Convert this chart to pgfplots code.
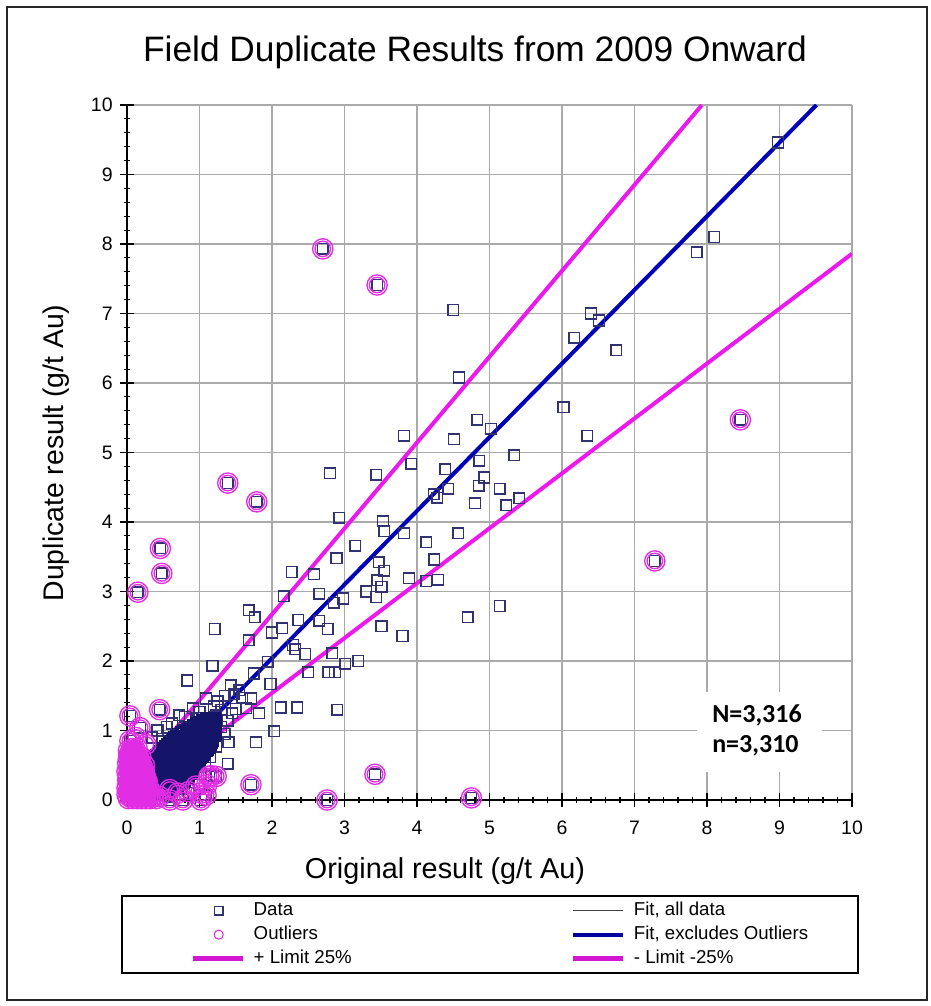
\documentclass[border=0pt]{standalone}
\usepackage{pgfplots}
\usepackage{pgfplotstable}
\pgfplotsset{compat=1.18}
\usepackage{fontspec}
\setmainfont{Liberation Sans}
\newfontfamily\calib{Carlito}
\definecolor{datacol}{RGB}{50,50,115}
\definecolor{clustcol}{RGB}{20,20,105}
\definecolor{outcol}{RGB}{225,45,228}
\definecolor{fitblue}{RGB}{0,0,185}
\definecolor{limcol}{RGB}{235,25,235}
\definecolor{gridcol}{RGB}{170,170,170}
\pgfplotsset{
  legmark/.style={legend image code/.code={\draw[##1] plot coordinates {(19.5pt,0pt)}; \path[draw=none,fill=none] (0pt,0pt) -- (38pt,0pt);}},
  legline/.style={legend image code/.code={\draw[##1] (0pt,0pt) -- (38pt,0pt);}},
}
\begin{document}
\begin{tikzpicture}
\begin{scope}[x=0.75pt,y=0.75pt]
\useasboundingbox (0,0) rectangle (931,1006);
\draw[line width=1.1pt, black!85] (7,6) rectangle (927,999);
\node[anchor=base, font=\fontsize{26.5}{30}\selectfont] at (475,944) {Field Duplicate Results from 2009 Onward};
\end{scope}
\begin{axis}[
  at={(95.25pt,154.5pt)}, anchor=south west,
  width=543.75pt, height=521.25pt, scale only axis,
  xmin=0, xmax=10, ymin=0, ymax=10,
  xtick={0,...,10}, ytick={0,...,10},
  minor tick num=4,
  axis lines*=left, tick pos=left,
  axis line style={-, black, line width=1.1pt},
  tick align=center,
  major tick length=10.5pt, minor tick length=4.5pt,
  tick style={black, line width=0.8pt},
  grid=major, major grid style={gridcol, line width=0.8pt},
  ticklabel style={font=\fontsize{14.6}{17}\selectfont},
  xticklabel style={yshift=-7pt},
  yticklabel style={xshift=-2pt},
  /pgf/number format/assume math mode=true,
  clip mode=individual,
  legend columns=2,
  legend cell align=left,
  legend style={at={(0.0869,-0.143)}, anchor=north west, draw=none, fill=none, inner sep=0pt,
    font=\fontsize{14}{17}\selectfont, row sep=1.5pt,
    nodes={inner sep=1.5pt, text height=10.5pt, text depth=3pt},
    /tikz/every odd column/.style={column sep=4.5pt},
    /tikz/column 2/.style={column sep=156pt}},
]
% legend
\addlegendimage{legmark, only marks, mark=square, mark size=3.2pt, datacol, line width=1pt}
\addlegendentry{\makebox[80pt][l]{Data}}
\addlegendimage{legline, black!75, line width=0.8pt}
\addlegendentry{Fit, all data}
\addlegendimage{legmark, only marks, mark=o, mark size=3.4pt, outcol, line width=0.8pt}
\addlegendentry{\makebox[80pt][l]{Outliers}}
\addlegendimage{legline, fitblue!85!black, line width=3pt}
\addlegendentry{Fit, excludes Outliers}
\addlegendimage{legline, limcol!90!black, line width=3.6pt}
\addlegendentry{\makebox[80pt][l]{+ Limit 25\%}}
\addlegendimage{legline, limcol!90!black, line width=3.6pt}
\addlegendentry{- Limit -25\%}
% lines
\addplot[forget plot, limcol, line width=3pt] coordinates {(0.2,0.447) (7.93,10)};
\addplot[forget plot, limcol, line width=3pt] coordinates {(0.2,0.118) (10,7.86)};
\addplot[forget plot, black!75, line width=0.8pt] coordinates {(0.2,0.15) (9.49,10)};
\addplot[forget plot, fitblue, line width=3pt] coordinates {(0.2,0.132) (9.51,10)};
% data squares (scattered)
\addplot[forget plot, only marks, mark=square, mark size=4pt, datacol, line width=1.1pt] coordinates {
(8.98,9.46) (8.10,8.10) (7.86,7.88)
(6.40,7.00) (6.51,6.90) (6.17,6.65) (6.75,6.47) (6.02,5.65) (6.35,5.24)
(4.50,7.05) (4.58,6.08)
(4.83,5.47) (5.02,5.34) (3.82,5.24) (4.51,5.19) (3.92,4.84) (5.34,4.96) (4.39,4.76) (4.86,4.88) (4.93,4.64) (4.85,4.52) (4.43,4.48) (4.28,4.35) (4.23,4.40) (5.14,4.48) (5.41,4.34) (4.80,4.27) (5.23,4.24) (3.82,3.84) (4.57,3.84) (4.13,3.71) (4.24,3.46) (3.89,3.19) (4.13,3.15) (4.29,3.17) (5.14,2.79) (4.70,2.63)
(2.80,4.70) (3.44,4.68) (2.93,4.06) (3.53,4.01) (3.55,3.87) (3.15,3.66) (2.89,3.48) (3.47,3.42) (3.55,3.30) (2.27,3.28) (2.58,3.25) (3.45,3.16) (3.51,3.07) (3.30,3.00) (2.65,2.97) (2.16,2.93) (3.44,2.92) (2.98,2.90) (2.85,2.84) (1.68,2.73) (1.76,2.63) (2.36,2.59) (2.65,2.58) (2.14,2.47) (2.77,2.46) (3.51,2.50) (3.80,2.36) (1.21,2.46) (2.00,2.41) (1.68,2.30) (2.29,2.23)
(2.46,2.10) (2.83,2.11) (2.32,2.17) (1.18,1.93) (0.83,1.72) (1.75,1.82) (1.94,1.99) (1.98,1.67) (2.50,1.84) (2.78,1.84) (2.87,1.84) (3.01,1.96) (3.19,2.00) (2.90,1.30) (2.12,1.33) (2.35,1.33) (2.03,0.99) (1.78,0.83) (1.39,0.52)
(0.72,1.22) (0.91,1.32) (1.00,1.27) (1.09,1.46) (1.25,1.42) (1.43,1.65) (1.59,1.47) (1.71,1.46) (1.47,1.52) (1.50,1.31) (1.64,1.32) (1.82,1.25) (1.39,1.14) (1.23,1.22) (1.40,0.83) (1.23,0.77) (1.08,0.52) (1.35,0.95) (1.30,1.05) (1.15,0.62) (0.85,0.10) (0.62,0.05) (0.75,0.16) (1.00,0.22) (0.55,1.05) (0.42,1.00) (0.62,1.10) (0.35,0.90) (0.48,0.88) (1.30,1.30) (1.55,1.58) (1.20,1.35) (0.80,1.20) (0.97,1.18) (1.45,1.25) (1.35,1.50)
(2.70,7.93) (3.45,7.41) (8.46,5.47) (7.28,3.44) (1.39,4.56) (1.79,4.29) (0.46,3.62) (0.48,3.26) (0.15,2.99) (0.04,1.21) (0.45,1.30) (0.18,1.04) (0.04,0.85) (1.71,0.22) (2.76,0.00) (3.42,0.37) (4.75,0.03) (1.13,0.34) (1.23,0.34) (1.09,0.07) (0.59,0.00) (0.77,0.00) (1.02,0.00) (1.16,0.35)
};
% data squares (dense cluster)
\addplot[forget plot, only marks, mark=square, mark size=4pt, clustcol, line width=1.2pt] coordinates {
(0.30,0.10) (0.36,0.10) (0.42,0.10) (0.48,0.10) (0.55,0.10)
(0.29,0.15) (0.34,0.15) (0.40,0.15) (0.46,0.15) (0.52,0.15) (0.58,0.15) (0.64,0.15)
(0.30,0.20) (0.35,0.20) (0.41,0.20) (0.47,0.20) (0.53,0.20) (0.59,0.20) (0.65,0.20) (0.70,0.20)
(0.31,0.25) (0.37,0.25) (0.43,0.25) (0.49,0.25) (0.55,0.25) (0.61,0.25) (0.67,0.25) (0.73,0.25) (0.78,0.25)
(0.29,0.30) (0.35,0.30) (0.41,0.30) (0.47,0.30) (0.53,0.30) (0.59,0.30) (0.65,0.30) (0.71,0.30) (0.77,0.30) (0.82,0.30)
(0.31,0.35) (0.37,0.35) (0.43,0.35) (0.49,0.35) (0.55,0.35) (0.61,0.35) (0.67,0.35) (0.73,0.35) (0.79,0.35) (0.85,0.35)
(0.30,0.40) (0.36,0.40) (0.42,0.40) (0.48,0.40) (0.54,0.40) (0.60,0.40) (0.66,0.40) (0.72,0.40) (0.78,0.40) (0.84,0.40) (0.89,0.40)
(0.32,0.45) (0.38,0.45) (0.44,0.45) (0.50,0.45) (0.56,0.45) (0.62,0.45) (0.68,0.45) (0.74,0.45) (0.80,0.45) (0.86,0.45) (0.92,0.45)
(0.31,0.50) (0.37,0.50) (0.43,0.50) (0.49,0.50) (0.55,0.50) (0.61,0.50) (0.67,0.50) (0.73,0.50) (0.79,0.50) (0.85,0.50) (0.91,0.50) (0.96,0.50)
(0.33,0.55) (0.39,0.55) (0.45,0.55) (0.51,0.55) (0.57,0.55) (0.63,0.55) (0.69,0.55) (0.75,0.55) (0.81,0.55) (0.87,0.55) (0.93,0.55) (0.99,0.55)
(0.36,0.60) (0.42,0.60) (0.48,0.60) (0.54,0.60) (0.60,0.60) (0.66,0.60) (0.72,0.60) (0.78,0.60) (0.84,0.60) (0.90,0.60) (0.96,0.60) (1.02,0.60)
(0.40,0.65) (0.46,0.65) (0.52,0.65) (0.58,0.65) (0.64,0.65) (0.70,0.65) (0.76,0.65) (0.82,0.65) (0.88,0.65) (0.94,0.65) (1.00,0.65) (1.06,0.65)
(0.44,0.70) (0.50,0.70) (0.56,0.70) (0.62,0.70) (0.68,0.70) (0.74,0.70) (0.80,0.70) (0.86,0.70) (0.92,0.70) (0.98,0.70) (1.04,0.70) (1.10,0.70)
(0.49,0.75) (0.55,0.75) (0.61,0.75) (0.67,0.75) (0.73,0.75) (0.79,0.75) (0.85,0.75) (0.91,0.75) (0.97,0.75) (1.03,0.75) (1.09,0.75) (1.14,0.75)
(0.55,0.80) (0.61,0.80) (0.67,0.80) (0.73,0.80) (0.79,0.80) (0.85,0.80) (0.91,0.80) (0.97,0.80) (1.03,0.80) (1.09,0.80) (1.15,0.80)
(0.60,0.85) (0.66,0.85) (0.72,0.85) (0.78,0.85) (0.84,0.85) (0.90,0.85) (0.96,0.85) (1.02,0.85) (1.08,0.85) (1.14,0.85) (1.19,0.85)
(0.65,0.90) (0.71,0.90) (0.77,0.90) (0.83,0.90) (0.89,0.90) (0.95,0.90) (1.01,0.90) (1.07,0.90) (1.13,0.90) (1.19,0.90)
(0.70,0.95) (0.76,0.95) (0.82,0.95) (0.88,0.95) (0.94,0.95) (1.00,0.95) (1.06,0.95) (1.12,0.95) (1.18,0.95) (1.23,0.95)
(0.78,1.00) (0.84,1.00) (0.90,1.00) (0.96,1.00) (1.02,1.00) (1.08,1.00) (1.14,1.00) (1.20,1.00)
(0.86,1.05) (0.92,1.05) (0.98,1.05) (1.04,1.05) (1.10,1.05) (1.16,1.05) (1.22,1.05)
(0.95,1.10) (1.01,1.10) (1.07,1.10) (1.13,1.10) (1.19,1.10)
(1.04,1.15) (1.10,1.15) (1.16,1.15) (1.22,1.15)
(0.33,0.125) (0.39,0.125) (0.45,0.125) (0.51,0.125) (0.58,0.125)
(0.32,0.175) (0.37,0.175) (0.43,0.175) (0.49,0.175) (0.55,0.175) (0.61,0.175) (0.67,0.175)
(0.33,0.225) (0.38,0.225) (0.44,0.225) (0.50,0.225) (0.56,0.225) (0.62,0.225) (0.68,0.225) (0.73,0.225)
(0.34,0.275) (0.40,0.275) (0.46,0.275) (0.52,0.275) (0.58,0.275) (0.64,0.275) (0.70,0.275) (0.76,0.275) (0.80,0.275)
(0.32,0.325) (0.38,0.325) (0.44,0.325) (0.50,0.325) (0.56,0.325) (0.62,0.325) (0.68,0.325) (0.74,0.325) (0.80,0.325) (0.84,0.325)
(0.34,0.375) (0.40,0.375) (0.46,0.375) (0.52,0.375) (0.58,0.375) (0.64,0.375) (0.70,0.375) (0.76,0.375) (0.82,0.375) (0.87,0.375)
(0.33,0.425) (0.39,0.425) (0.45,0.425) (0.51,0.425) (0.57,0.425) (0.63,0.425) (0.69,0.425) (0.75,0.425) (0.81,0.425) (0.87,0.425) (0.91,0.425)
(0.35,0.475) (0.41,0.475) (0.47,0.475) (0.53,0.475) (0.59,0.475) (0.65,0.475) (0.71,0.475) (0.77,0.475) (0.83,0.475) (0.89,0.475) (0.94,0.475)
(0.34,0.525) (0.40,0.525) (0.46,0.525) (0.52,0.525) (0.58,0.525) (0.64,0.525) (0.70,0.525) (0.76,0.525) (0.82,0.525) (0.88,0.525) (0.94,0.525) (0.98,0.525)
(0.36,0.575) (0.42,0.575) (0.48,0.575) (0.54,0.575) (0.60,0.575) (0.66,0.575) (0.72,0.575) (0.78,0.575) (0.84,0.575) (0.90,0.575) (0.96,0.575) (1.01,0.575)
(0.39,0.625) (0.45,0.625) (0.51,0.625) (0.57,0.625) (0.63,0.625) (0.69,0.625) (0.75,0.625) (0.81,0.625) (0.87,0.625) (0.93,0.625) (0.99,0.625) (1.04,0.625)
(0.43,0.675) (0.49,0.675) (0.55,0.675) (0.61,0.675) (0.67,0.675) (0.73,0.675) (0.79,0.675) (0.85,0.675) (0.91,0.675) (0.97,0.675) (1.03,0.675) (1.08,0.675)
(0.47,0.725) (0.53,0.725) (0.59,0.725) (0.65,0.725) (0.71,0.725) (0.77,0.725) (0.83,0.725) (0.89,0.725) (0.95,0.725) (1.01,0.725) (1.07,0.725) (1.12,0.725)
(0.52,0.775) (0.58,0.775) (0.64,0.775) (0.70,0.775) (0.76,0.775) (0.82,0.775) (0.88,0.775) (0.94,0.775) (1.00,0.775) (1.06,0.775) (1.12,0.775)
(0.58,0.825) (0.64,0.825) (0.70,0.825) (0.76,0.825) (0.82,0.825) (0.88,0.825) (0.94,0.825) (1.00,0.825) (1.06,0.825) (1.12,0.825) (1.17,0.825)
(0.63,0.875) (0.69,0.875) (0.75,0.875) (0.81,0.875) (0.87,0.875) (0.93,0.875) (0.99,0.875) (1.05,0.875) (1.11,0.875) (1.17,0.875)
(0.68,0.925) (0.74,0.925) (0.80,0.925) (0.86,0.925) (0.92,0.925) (0.98,0.925) (1.04,0.925) (1.10,0.925) (1.16,0.925) (1.21,0.925)
(0.74,0.975) (0.81,0.975) (0.87,0.975) (0.93,0.975) (0.99,0.975) (1.05,0.975) (1.11,0.975) (1.17,0.975) (1.22,0.975)
(0.83,1.025) (0.89,1.025) (0.95,1.025) (1.01,1.025) (1.07,1.025) (1.13,1.025) (1.19,1.025)
(0.91,1.075) (0.97,1.075) (1.03,1.075) (1.09,1.075) (1.15,1.075) (1.21,1.075)
(1.00,1.125) (1.06,1.125) (1.12,1.125) (1.18,1.125)
(1.09,1.175) (1.15,1.175) (1.21,1.175)
};
% outliers (double ring)
\pgfplotstableread{
x y
2.70 7.93
3.45 7.41
8.46 5.47
7.28 3.44
1.39 4.56
1.79 4.29
0.46 3.62
0.48 3.26
0.15 2.99
0.04 1.21
0.45 1.30
0.18 1.04
0.04 0.85
0.12 0.90
0.26 0.80
1.71 0.22
2.76 0.00
3.42 0.37
4.75 0.03
1.13 0.34
1.23 0.34
1.16 0.35
1.09 0.07
1.10 0.22
1.02 0.10
1.02 0.00
0.77 0.00
0.59 0.00
0.59 0.15
0.70 0.10
0.85 0.12
0.95 0.20
0.45 0.05
0.02 0.02
0.08 0.02
0.14 0.02
0.20 0.02
0.26 0.02
0.32 0.02
0.40 0.02
0.00 0.08
0.06 0.08
0.12 0.08
0.18 0.08
0.24 0.08
0.30 0.08
0.03 0.14
0.09 0.14
0.15 0.14
0.21 0.14
0.27 0.14
0.01 0.20
0.07 0.20
0.13 0.20
0.19 0.20
0.25 0.20
0.04 0.26
0.10 0.26
0.16 0.26
0.22 0.26
0.28 0.26
0.02 0.32
0.08 0.32
0.14 0.32
0.20 0.32
0.26 0.32
0.05 0.38
0.11 0.38
0.17 0.38
0.23 0.38
0.03 0.44
0.09 0.44
0.15 0.44
0.21 0.44
0.06 0.50
0.12 0.50
0.18 0.50
0.24 0.50
0.04 0.56
0.10 0.56
0.16 0.56
0.07 0.62
0.13 0.62
0.19 0.62
0.05 0.68
0.11 0.68
0.08 0.74
0.14 0.74
0.05 0.05
0.11 0.05
0.17 0.05
0.23 0.05
0.29 0.05
0.35 0.05
0.03 0.11
0.09 0.11
0.15 0.11
0.21 0.11
0.27 0.11
0.00 0.17
0.06 0.17
0.12 0.17
0.18 0.17
0.24 0.17
0.30 0.17
0.04 0.23
0.10 0.23
0.16 0.23
0.22 0.23
0.28 0.23
0.01 0.29
0.07 0.29
0.13 0.29
0.19 0.29
0.25 0.29
0.02 0.35
0.08 0.35
0.14 0.35
0.20 0.35
0.00 0.41
0.06 0.41
0.12 0.41
0.18 0.41
0.24 0.41
0.03 0.47
0.09 0.47
0.15 0.47
0.21 0.47
0.01 0.53
0.07 0.53
0.13 0.53
0.19 0.53
0.02 0.59
0.08 0.59
0.14 0.59
0.03 0.65
0.09 0.65
0.15 0.65
0.02 0.71
0.08 0.71
}\outtab
\addplot[forget plot, only marks, mark=o, mark size=7.6pt, outcol, line width=1pt] table {\outtab};
\addplot[forget plot, only marks, mark=o, mark size=5.8pt, outcol, line width=1pt] table {\outtab};
\end{axis}
\begin{scope}[x=0.75pt,y=0.75pt]
% legend box
\draw[line width=0.9pt, black] (122,110) rectangle (858,33);
% N / n box
\fill[white] (697,234) rectangle (822,314);
\node[anchor=base west, font=\calib\bfseries\fontsize{19.5}{22}\selectfont, inner sep=0pt] at (712,283) {N=3,316};
\node[anchor=base west, font=\calib\bfseries\fontsize{19.5}{22}\selectfont, inner sep=0pt] at (712,253) {n=3,310};
% axis labels
\node[anchor=base, font=\fontsize{21.6}{26}\selectfont] at (445,127) {Original result (g/t Au)};
\node[anchor=base, rotate=90, font=\fontsize{21.3}{26}\selectfont] at (63,553) {Duplicate result (g/t Au)};
\end{scope}
\end{tikzpicture}
\end{document}
